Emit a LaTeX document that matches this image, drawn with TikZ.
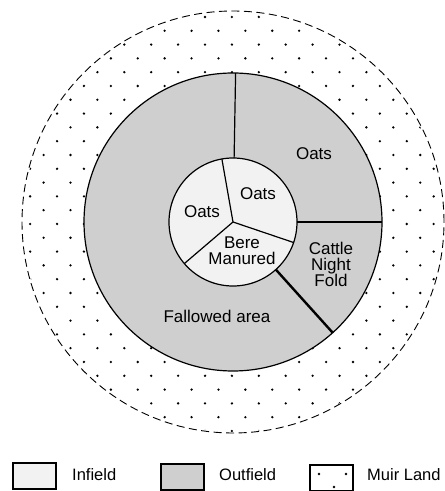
\documentclass[tikz,border=0pt]{standalone}
\usepackage{fontspec}
\setmainfont{Liberation Sans}
\begin{document}
\begin{tikzpicture}[x=1pt,y=1pt,
  lbl/.style={font=\fontsize{17}{16}\selectfont, align=center, inner sep=0pt},
  legtext/.style={font=\fontsize{16.5}{16}\selectfont, anchor=west, inner sep=0pt},
  ring/.style={line width=1.2pt},
  spoke/.style={line width=1.2pt},
  thickspoke/.style={line width=2.4pt},
  legbox/.style={draw, line width=1.2pt, minimum width=43pt, minimum height=26pt, inner sep=0pt},
  infieldfill/.style={fill=black!5},
  outfieldfill/.style={fill=black!19},
  muirdot/.style={fill=black}]
\useasboundingbox (0,0) rectangle (445,491);
\coordinate (C) at (233,269);
% Muir land dots
\begin{scope}
  \clip (C) circle (210pt);
  \foreach \j in {0,...,31} {
    \foreach \i in {-8,...,9} {
      \fill[muirdot] ({205+26.9*\i+13.45*mod(\j,2)}, {474-13.8*\j}) circle (1.3pt);
    }
  }
\end{scope}
\draw[dash pattern=on 8pt off 4.5pt, line width=0.9pt] (C) circle (211pt);
% Outfield and infield
\filldraw[outfieldfill, ring] (C) circle (149pt);
\filldraw[infieldfill, ring] (C) circle (64pt);
\begin{scope}[shift={(233,269)}]
  \coordinate (O) at (0,0);
  \coordinate (s1) at (100:64pt);
  \coordinate (s2) at (-18.7:64pt);
  \coordinate (s3) at (220.5:64pt);
  \coordinate (a1) at (89:64pt);
  \coordinate (b1) at (89:149pt);
  \coordinate (a2) at (0:64pt);
  \coordinate (b2) at (0:149pt);
  \coordinate (a3) at (-48:64pt);
  \coordinate (b3) at (-48:149pt);
  \draw[spoke] (O) -- (s1);
  \draw[spoke] (O) -- (s2);
  \draw[spoke] (O) -- (s3);
  \draw[spoke] (a1) -- (b1);
  \draw[spoke] (a2) -- (b2);
  \draw[thickspoke] (a3) -- (b3);
  \node[lbl] (oatsout) at (81,68) {Oats};
  \node[lbl] (oatsr) at (25,28) {Oats};
  \node[lbl] (oatsl) at (-31,10) {Oats};
  \node[lbl] (bere) at (9,-29) {Bere\\Manured};
  \node[lbl] (cattle) at (98,-42) {Cattle\\Night\\Fold};
  \node[lbl] (fallow) at (-16,-94) {Fallowed area};
\end{scope}
% Legend
\node[legbox, infieldfill] (legin) at (34.5,15) {};
\node[legtext] (legintext) at (72,16) {Infield};
\node[legbox, outfieldfill] (legout) at (182.5,14) {};
\node[legtext] (legouttext) at (219,16) {Outfield};
\node[legbox] (legmuir) at (331.5,13) {};
\fill[muirdot] (319,17) circle (1.3pt);
\fill[muirdot] (346,17) circle (1.3pt);
\fill[muirdot] (334,4) circle (1.3pt);
\node[legtext] (legmuirtext) at (367,16) {Muir Land};
\end{tikzpicture}
\end{document}
